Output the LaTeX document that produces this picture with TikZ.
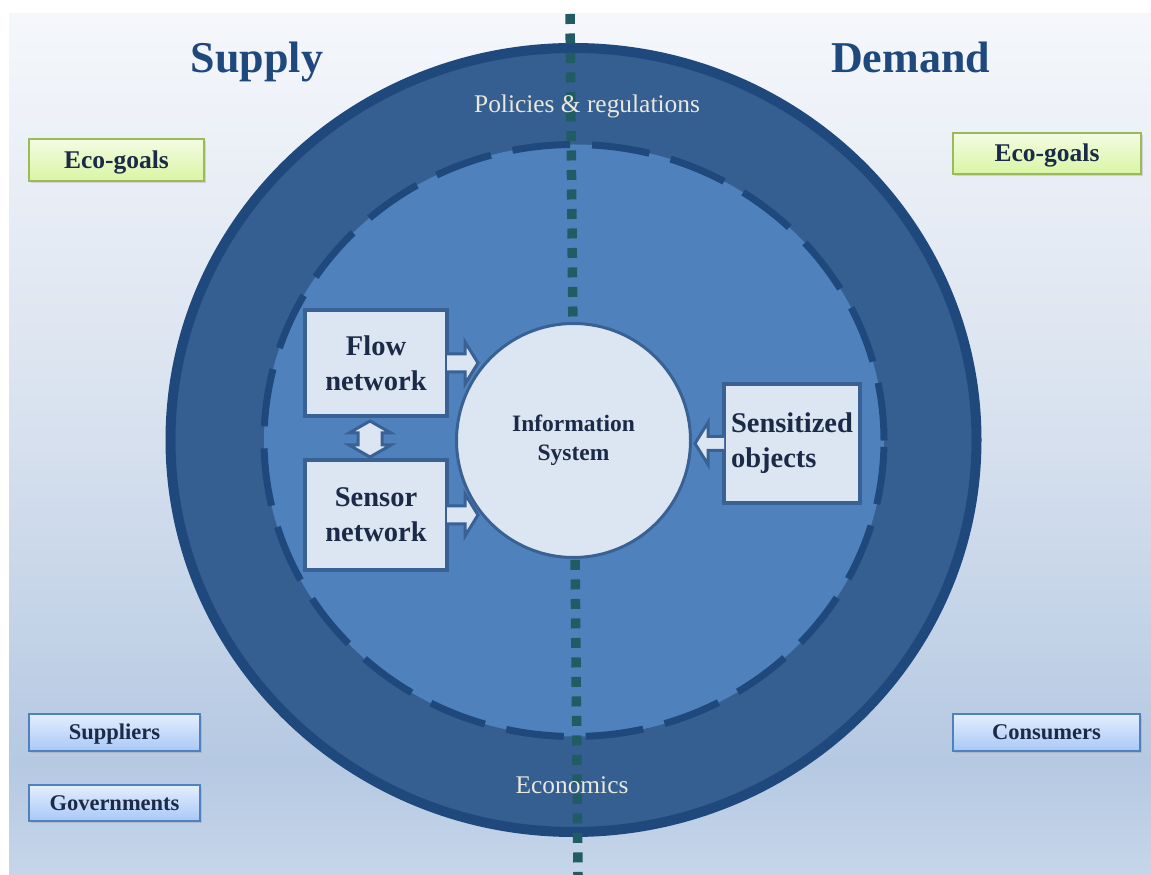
\documentclass[tikz,border=0pt]{standalone}
\usepackage{fontspec}
\setmainfont{Liberation Serif}
\usetikzlibrary{shapes}
\usetikzlibrary{shadows}

\definecolor{bgtop}{HTML}{F5F7FB}
\definecolor{bgmid}{HTML}{D6E0EE}
\definecolor{bglow}{HTML}{B5C9E2}
\definecolor{bgfoot}{HTML}{C6D6EA}
\definecolor{ringdark}{HTML}{365F91}
\definecolor{ringedge}{HTML}{1F497D}
\definecolor{innerblue}{HTML}{4F81BD}
\definecolor{dotcol}{HTML}{215B64}
\definecolor{boxfill}{HTML}{DCE6F2}
\definecolor{boxedge}{HTML}{3A6194}
\definecolor{textdark}{HTML}{1B2A47}
\definecolor{ringtext}{HTML}{E8E8DE}
\definecolor{ecotop}{HTML}{F4FCE3}
\definecolor{ecobot}{HTML}{D9F5A4}
\definecolor{ecoedge}{HTML}{9BBB59}
\definecolor{actortop}{HTML}{E4EEFE}
\definecolor{actorbot}{HTML}{A9C8F7}
\definecolor{actoredge}{HTML}{4F81BD}

\pgfdeclareverticalshading{pagefade}{100bp}{color(0bp)=(bgfoot); color(25bp)=(bgfoot);
  color(31.5bp)=(bglow); color(50bp)=(bgmid); color(75bp)=(bgtop); color(100bp)=(bgtop)}

\tikzset{
  sidehead/.style={anchor=base, text=ringedge, font=\bfseries\fontsize{44}{50}\selectfont},
  ringlabel/.style={anchor=base, text=ringtext, font=\fontsize{25.4}{30}\selectfont},
  ecobox/.style={rectangle, draw=ecoedge, line width=1.5pt, top color=ecotop, bottom color=ecobot,
    text=textdark, font=\bfseries\fontsize{25.5}{30}\selectfont, text height=17pt, text depth=0pt,
    drop shadow={shadow xshift=1.5pt, shadow yshift=-2.5pt, opacity=0.25}},
  actorbox/.style={rectangle, draw=actoredge, line width=1.5pt, top color=actortop, bottom color=actorbot,
    text=textdark, font=\bfseries\fontsize{22.5}{27}\selectfont, text height=15pt, text depth=0pt,
    drop shadow={shadow xshift=1.5pt, shadow yshift=-2.5pt, opacity=0.25}},
  netbox/.style={rectangle, draw=boxedge, fill=boxfill, line width=4pt, inner sep=0pt,
    align=center, text=textdark, font=\bfseries\fontsize{28.5}{35}\selectfont},
  infocircle/.style={circle, draw=boxedge, fill=boxfill, line width=3pt, inner sep=0pt,
    minimum size=234pt, align=center, text=textdark, font=\bfseries\fontsize{23.5}{29}\selectfont},
  blockarrow/.style={draw=boxedge, fill=boxfill, line width=3pt, line join=miter},
  divide/.style={draw=dotcol, line width=9.5pt, dash pattern=on 10pt off 9.5pt}
}

\begin{document}
\begin{tikzpicture}[x=1pt,y=1pt]
\useasboundingbox (0,0) rectangle (1151,875);

%BACKGROUND
\shade [shading=pagefade] (9,0) rectangle (1151,861);

%RINGS
%Outer ring
\filldraw [fill=ringdark, draw=ringedge, line width=10pt] (573.5,435) ellipse [x radius=403, y radius=392];
%Inner dashed ring
\filldraw [fill=innerblue, draw=ringedge, line width=7pt, dash pattern=on 58pt off 22pt] (574,434.5) ellipse [x radius=310, y radius=296];

%Supply / Demand divide
\coordinate (divtop) at (570,861);
\coordinate (divbot) at (578,0);
\draw [divide] (divtop) -- (divbot);

%Labels
\node [sidehead] (supply) at (257,802) {Supply};
\node [sidehead] (demand) at (910.5,802) {Demand};
\node [ringlabel] (policies) at (587,762) {Policies \& regulations};
\node [ringlabel] (economics) at (572,81) {Economics};

%Goals and actors
\node [ecobox, minimum width=175pt, minimum height=42pt] (ecoS) at (116.5,715) {Eco-goals};
\node [ecobox, minimum width=188pt, minimum height=41pt] (ecoD) at (1047,721.5) {Eco-goals};
\node [actorbox, minimum width=171pt, minimum height=37pt] (suppliers) at (114.5,142.5) {Suppliers};
\node [actorbox, minimum width=171pt, minimum height=36pt] (governments) at (114.5,72) {Governments};
\node [actorbox, minimum width=187pt, minimum height=37pt] (consumers) at (1046.5,142.5) {Consumers};

%CENTRE
\node [infocircle] (info) at (573.5,434.5) {Information\\System};
\node [netbox, minimum width=142pt, minimum height=106pt] (flow) at (376,512) {Flow\\network};
\node [netbox, minimum width=142pt, minimum height=110pt] (sensor) at (376,360) {Sensor\\network};
\node [netbox, minimum width=136pt, minimum height=119pt, align=left] (sensitized) at (792,431.5) {Sensitized\\objects};

%Block arrows
\foreach \n in {flow,sensor}
{
\filldraw [blockarrow] ([xshift=-2pt,yshift=9pt]\n.east) -- ++(18,0) -- ++(0,12) -- ++(13,-21) -- ++(-13,-21) -- ++(0,12) -- ++(-18,0);
}
\filldraw [blockarrow] ([xshift=2pt,yshift=7pt]sensitized.west) -- ++(-16,0) -- ++(0,14) -- ++(-13,-21) -- ++(13,-21) -- ++(0,14) -- ++(16,0);

%Flow <-> sensor
\coordinate (dtop) at ([xshift=-6pt,yshift=-3pt]flow.south);
\coordinate (dbot) at ([xshift=-6pt,yshift=1pt]sensor.north);
\filldraw [blockarrow] (dtop) -- ++(21,-12) -- ++(-9,0) -- ([xshift=12pt,yshift=12pt]dbot) -- ++(9,0) -- (dbot)
  -- ++(-21,12) -- ++(9,0) -- ([xshift=-12pt,yshift=-12pt]dtop) -- ++(-9,0) -- cycle;

\end{tikzpicture}
\end{document}
